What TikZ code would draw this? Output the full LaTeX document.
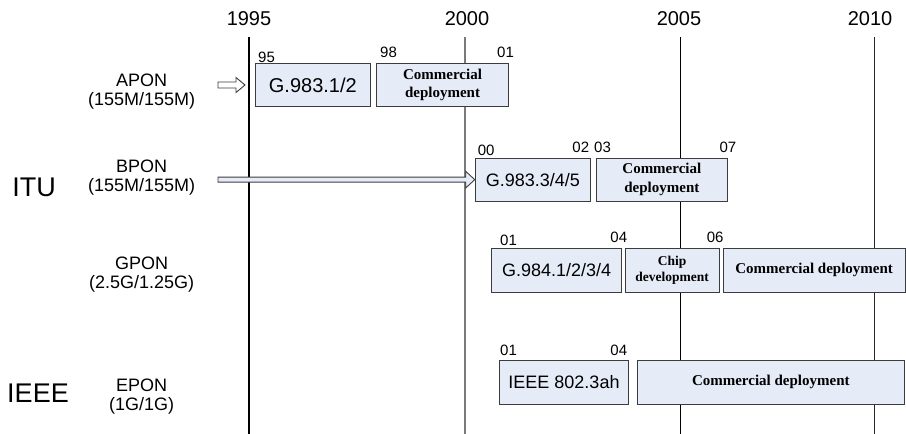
\documentclass[tikz,border=0pt]{standalone}
\usepackage{fontspec}
\setmainfont{Liberation Sans}
\newfontfamily\tnr{Liberation Serif}
\usetikzlibrary{calc}
\definecolor{boxfill}{HTML}{E6ECF7}
\definecolor{boxline}{HTML}{3C3C3C}
\definecolor{midline}{HTML}{7A7A7A}
\tikzset{
  pbox/.style={draw=boxline, fill=boxfill, line width=0.9pt, inner sep=0pt, align=center},
  spec/.style={font=\fontsize{18}{21}\selectfont},
  cdtext/.style={font=\tnr\bfseries\fontsize{15}{18.5}\selectfont},
  chiptext/.style={font=\tnr\bfseries\fontsize{13.5}{16}\selectfont},
  yearlbl/.style={font=\fontsize{20}{24}\selectfont, inner sep=0pt},
  smalllbl/.style={font=\fontsize{15}{18}\selectfont, inner sep=0pt},
  rowlbl/.style={font=\fontsize{18}{19}\selectfont, align=center, inner sep=0pt},
  orglbl/.style={font=\fontsize{27}{30}\selectfont, inner sep=0pt},
  yearline/.style={line width=1.1pt, black},
  blockarrow/.style={draw=boxline, line width=0.9pt, line join=miter},
}
\newcommand\pbox[7][]{%
  \node[pbox,#1, minimum width={#5pt-#3pt}, minimum height={#6pt-#4pt}] (#2)
    at ({(#3+#5)/2},{(#4+#6)/2}) {#7};}
\newcommand\barrow[5][]{%
  \draw[blockarrow,#1] let \p1=(#2), \p2=(#3) in
    (\x1,{\y2+#4pt}) -- ({\x2-9pt},{\y2+#4pt}) -- ({\x2-9pt},{\y2+#5pt}) -- (\x2,\y2)
    -- ({\x2-9pt},{\y2-#5pt}) -- ({\x2-9pt},{\y2-#4pt}) -- (\x1,{\y2-#4pt}) -- cycle;}
\begin{document}
\begin{tikzpicture}[x=1pt,y=-1pt]
\useasboundingbox (0,0) rectangle (906,434);
% years
\node[yearlbl] (y1995) at (249,18.5) {1995};
\node[yearlbl] (y2000) at (467,18.5) {2000};
\node[yearlbl] (y2005) at (679,18.5) {2005};
\node[yearlbl] (y2010) at (870,18.5) {2010};
\coordinate (t1995) at (249,37); \coordinate (b1995) at (249,434);
\coordinate (t2000) at (465,37); \coordinate (b2000) at (465,434);
\coordinate (t2005) at (680.5,37); \coordinate (b2005) at (680.5,434);
\coordinate (t2010) at (874,37); \coordinate (b2010) at (874,434);
\draw[yearline] (t1995) -- (b1995);
\draw[yearline, midline, line width=1.8pt] (t2000) -- (b2000);
\draw[yearline, line width=0.9pt] (t2005) -- (b2005);
\draw[yearline, line width=0.9pt, black!85] (t2010) -- (b2010);
% organisation labels
\node[orglbl] (itu) at (34,187) {ITU};
\node[orglbl] (ieee) at (38,393.5) {IEEE};
% row labels
\node[rowlbl] (apon) at (141.7,92) {APON\\(155M/155M)};
\node[rowlbl] (bpon) at (141.7,178) {BPON\\(155M/155M)};
\node[rowlbl] (gpon) at (141.7,274.5) {GPON\\(2.5G/1.25G)};
\node[rowlbl] (epon) at (141.7,397) {EPON\\(1G/1G)};
% APON row
\pbox[spec,font=\fontsize{20}{24}\selectfont]{g9831}{255.7}{63.3}{370}{106.7}{G.983.1/2}
\pbox[cdtext]{acd}{376.7}{63.3}{508.3}{106.7}{Commercial\\deployment}
\node[smalllbl, anchor=west] (l95) at (258,57) {95};
\node[smalllbl, anchor=west] (l98) at (380,52) {98};
\node[smalllbl, anchor=west] (la01) at (497,52) {01};
% BPON row
\pbox[spec]{g9833}{475.7}{158.3}{590}{201}{G.983.3/4/5}
\pbox[cdtext]{bcd}{596}{158.3}{727.7}{201}{Commercial\\deployment}
\node[smalllbl, anchor=west] (lb00) at (477.7,150) {00};
\node[smalllbl, anchor=east] (lb02) at (589.3,147) {02};
\node[smalllbl, anchor=west] (lb03) at (594,147) {03};
\node[smalllbl, anchor=west] (lb07) at (719.3,147) {07};
% GPON row
\pbox[spec]{g984}{491.7}{248.3}{621.7}{292.3}{G.984.1/2/3/4}
\pbox[chiptext]{chip}{625}{248.3}{719.3}{292.3}{Chip\\development}
\pbox[cdtext]{gcd}{723.3}{248.3}{905}{292.3}{Commercial deployment}
\node[smalllbl, anchor=west] (lg01) at (500,240) {01};
\node[smalllbl, anchor=east] (lg04) at (627.3,237) {04};
\node[smalllbl, anchor=west] (lg06) at (706.7,237) {06};
% EPON row
\pbox[spec]{ieeebox}{499.3}{360.7}{628.7}{404}{IEEE 802.3ah}
\pbox[cdtext]{ecd}{637.3}{360.7}{904.3}{404}{Commercial deployment}
\node[smalllbl, anchor=west] (le01) at (500,350) {01};
\node[smalllbl, anchor=east] (le04) at (627.3,350) {04};
% arrows
\coordinate (astart) at (218,85);
\coordinate (atip) at (245,85);
\barrow[fill=white]{astart}{atip}{3}{7.5}
\coordinate (bstart) at (218,180);
\path (g9833.west) ++(-0.5,0) coordinate (btip);
\barrow[fill=boxfill]{bstart}{btip}{2.5}{8.3}
\end{tikzpicture}
\end{document}
